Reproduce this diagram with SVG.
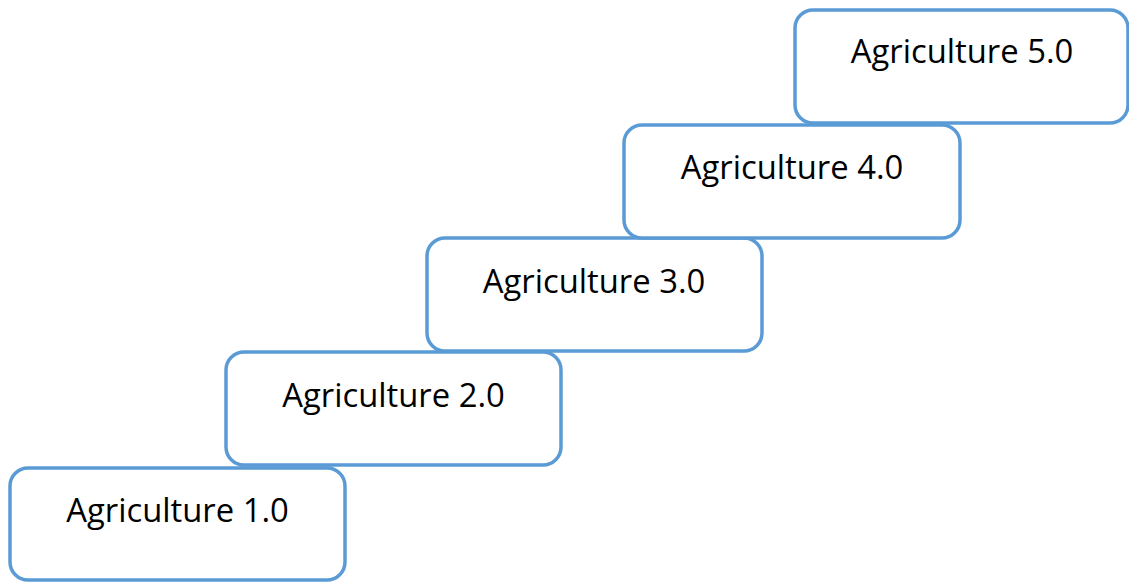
<svg xmlns="http://www.w3.org/2000/svg" width="1129" height="583" viewBox="0 0 1129 583">
<style>
.box{fill:#ffffff;stroke:#5B9BD5;stroke-width:3.5}
.lbl{font-family:"Open Sans","Liberation Sans",sans-serif;font-size:32.8px;fill:#000000;text-anchor:middle}
</style>
<rect width="1129" height="583" fill="#ffffff"/>
<g id="connectors"></g>
<g id="node1"><rect class="box" x="10" y="468" width="335" height="112" rx="18"/><text class="lbl" x="177.5" y="522">Agriculture 1.0</text></g>
<g id="node2"><rect class="box" x="226" y="352" width="335" height="113" rx="18"/><text class="lbl" x="393.5" y="407">Agriculture 2.0</text></g>
<g id="node3"><rect class="box" x="427" y="238" width="335" height="113" rx="18"/><text class="lbl" x="594" y="293">Agriculture 3.0</text></g>
<g id="node4"><rect class="box" x="624" y="125" width="336" height="113" rx="18"/><text class="lbl" x="792" y="179">Agriculture 4.0</text></g>
<g id="node5"><rect class="box" x="795" y="10" width="333" height="113" rx="18"/><text class="lbl" x="962" y="63">Agriculture 5.0</text></g>
</svg>
